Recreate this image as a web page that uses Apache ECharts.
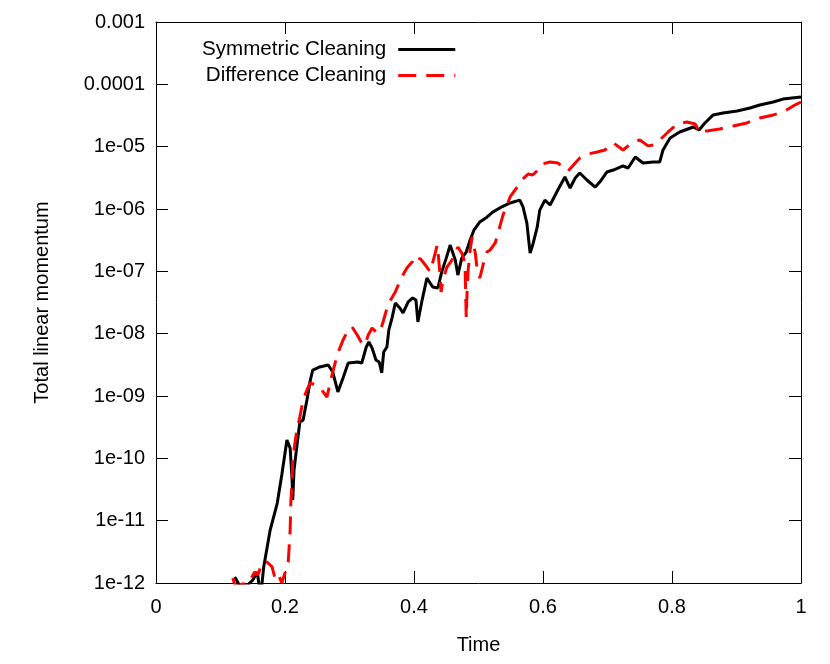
<!DOCTYPE html>
<html>
<head>
    <meta charset="utf-8" />
    <title>Total linear momentum</title>
    <script type="text/javascript" src="https://cdn.jsdelivr.net/npm/echarts@6/dist/echarts.min.js"></script>
    <style>html,body{margin:0;padding:0;background:#fff;}</style>
</head>
<body>
<div id="main" style="width:830px;height:664px;"></div>
<script type="text/javascript">
    // Symmetric Cleaning (solid black)
    var symTime = [0.122,0.130,0.141,0.150,0.157,0.160,0.164,0.167,0.177,0.188,
        0.195,0.203,0.208,0.211,0.212,0.214,0.219,0.223,0.228,0.234,
        0.239,0.243,0.254,0.267,0.274,0.282,0.290,0.298,0.313,0.319,
        0.326,0.330,0.335,0.341,0.346,0.350,0.353,0.358,0.361,0.366,
        0.371,0.378,0.383,0.391,0.398,0.403,0.406,0.412,0.420,0.429,
        0.437,0.443,0.450,0.456,0.464,0.468,0.474,0.481,0.487,0.493,
        0.502,0.513,0.522,0.533,0.549,0.564,0.569,0.575,0.580,0.584,
        0.591,0.595,0.603,0.611,0.623,0.634,0.642,0.650,0.657,0.668,
        0.681,0.688,0.699,0.709,0.724,0.732,0.743,0.755,0.771,0.781,
        0.786,0.797,0.812,0.833,0.842,0.851,0.864,0.879,0.901,0.921,
        0.936,0.957,0.972,1.000];
    var symMomentum = [1.25e-12,9e-13,9e-13,1.12e-12,1.5e-12,9e-13,9e-13,1.81e-12,7.08e-12,1.92e-11,
        5.4e-11,1.97e-10,1.46e-10,4.5e-11,2.15e-11,6.5e-11,1.76e-10,3.82e-10,4.1e-10,8.6e-10,
        1.74e-9,2.61e-9,2.92e-9,3.14e-9,2.43e-9,1.16e-9,1.94e-9,3.38e-9,3.51e-9,3.38e-9,
        6.11e-9,7.35e-9,5.89e-9,3.78e-9,3.51e-9,2.34e-9,5.08e-9,6.11e-9,1.15e-8,1.79e-8,
        3.1e-8,2.58e-8,2.15e-8,3.23e-8,3.74e-8,3.47e-8,1.54e-8,3.23e-8,7.8e-8,5.6e-8,
        5.4e-8,9.8e-8,1.63e-7,2.64e-7,1.52e-7,8.7e-8,1.63e-7,2.04e-7,3.18e-7,4.6e-7,
        6.2e-7,7.4e-7,8.9e-7,1.04e-6,1.25e-6,1.39e-6,1.08e-6,5.95e-7,1.97e-7,2.64e-7,
        5.1e-7,9.6e-7,1.39e-6,1.16e-6,2.02e-6,3.26e-6,2.17e-6,3.14e-6,3.78e-6,2.92e-6,
        2.25e-6,2.71e-6,3.92e-6,4.22e-6,4.9e-6,4.55e-6,6.83e-6,5.47e-6,5.68e-6,5.68e-6,
        8.84e-6,1.38e-5,1.72e-5,2.07e-5,1.85e-5,2.4e-5,3.23e-5,3.47e-5,3.74e-5,4.17e-5,
        4.67e-5,5.2e-5,5.8e-5,6.27e-5];

    // Difference Cleaning (dashed red)
    var diffTime = [0.119,0.122,0.126,0.133,0.143,0.153,0.158,0.164,0.172,0.180,
        0.184,0.189,0.195,0.200,0.205,0.208,0.209,0.211,0.212,0.216,
        0.219,0.223,0.228,0.234,0.239,0.247,0.257,0.265,0.270,0.274,
        0.282,0.290,0.298,0.304,0.312,0.319,0.324,0.329,0.335,0.343,
        0.347,0.352,0.360,0.371,0.381,0.389,0.397,0.405,0.409,0.414,
        0.420,0.425,0.433,0.436,0.437,0.440,0.442,0.445,0.451,0.459,
        0.464,0.468,0.474,0.479,0.481,0.482,0.484,0.487,0.490,0.495,
        0.498,0.502,0.507,0.513,0.518,0.526,0.538,0.549,0.560,0.567,
        0.577,0.584,0.592,0.598,0.611,0.623,0.634,0.639,0.650,0.657,
        0.670,0.684,0.696,0.709,0.724,0.740,0.750,0.763,0.771,0.781,
        0.794,0.808,0.823,0.836,0.843,0.854,0.874,0.895,0.916,0.936,
        0.957,0.972,0.988,1.000];
    var diffMomentum = [1.2e-12,9.5e-13,9e-13,9.6e-13,9.6e-13,1.5e-12,1.34e-12,2.09e-12,2.17e-12,1.81e-12,
        1.25e-12,1.45e-12,1.0e-12,1.45e-12,2.17e-12,7.08e-12,1.92e-11,4.5e-11,9.4e-11,1.97e-10,
        3.06e-10,4.6e-10,8.6e-10,1.25e-9,1.62e-9,1.5e-9,1.25e-9,9.6e-10,1.62e-9,2.43e-9,
        4.9e-9,7.91e-9,1.15e-8,1.28e-8,9.52e-9,7.08e-9,6.58e-9,9.52e-9,1.23e-8,1.03e-8,
        1.06e-8,1.54e-8,3.0e-8,4.67e-8,8.1e-8,1.13e-7,1.41e-7,1.26e-7,1.63e-7,1.41e-7,
        1.17e-7,9.8e-8,1.97e-7,2.64e-7,2.2e-7,9.8e-8,4.67e-8,7.3e-8,1.17e-7,1.52e-7,
        1.97e-7,2.45e-7,1.97e-7,1.36e-7,1.79e-8,3.88e-8,1.05e-7,2.2e-7,3.55e-7,1.97e-7,
        1.05e-7,7.8e-8,1.26e-7,2.04e-7,2.2e-7,2.85e-7,8.0e-7,1.56e-6,2.25e-6,2.92e-6,
        3.64e-6,3.51e-6,4.22e-6,5.27e-6,5.68e-6,5.47e-6,4.55e-6,4.07e-6,5.47e-6,6.58e-6,
        7.63e-6,8.21e-6,8.84e-6,1.15e-5,8.84e-6,1.19e-5,1.28e-5,1.03e-5,1.06e-5,1.28e-5,
        1.72e-5,2.31e-5,2.49e-5,2.31e-5,1.66e-5,1.79e-5,1.92e-5,2.15e-5,2.4e-5,2.89e-5,
        3.23e-5,3.6e-5,4.5e-5,5.2e-5];

    // tick labels of the log axis, from 1e-12 up to 1e-3
    var yTickLabels = ['1e-12','1e-11','1e-10','1e-09','1e-08','1e-07','1e-06','1e-05','0.0001','0.001'];
    var xTickLabels = ['0','0.2','0.4','0.6','0.8','1'];

    function pairs(xs, ys) {
        var out = [];
        for (var i = 0; i < xs.length; i++) out.push([xs[i], ys[i]]);
        return out;
    }

    var font = "'Liberation Sans', Arial, sans-serif";
    var myChart = echarts.init(document.getElementById('main'));

    // gnuplot style: ticks point into the plot on all four sides
    var tickStyle = { show: true, inside: true, length: 12, lineStyle: { color: '#000', width: 1 } };
    var lineAxis = { show: true, onZero: false, lineStyle: { color: '#000', width: 1 } };

    var option = {
        animation: false,
        backgroundColor: '#fff',
        textStyle: { fontFamily: font },
        grid: { left: 156, top: 22, right: 29, bottom: 81, containLabel: false },
        legend: {
            orient: 'vertical',
            align: 'right',
            left: 197,
            top: 34,
            itemWidth: 57,
            itemHeight: 14,
            itemGap: 5,
            itemStyle: { opacity: 0 },
            lineStyle: { width: 3 },
            textStyle: { fontFamily: font, fontSize: 20.6, color: '#000', padding: [0, 7, 0, 0] },
            data: ['Symmetric Cleaning', 'Difference Cleaning']
        },
        xAxis: [{
            type: 'value',
            min: 0, max: 1, interval: 0.2,
            name: 'Time',
            nameLocation: 'middle',
            nameGap: 52,
            nameTextStyle: { fontFamily: font, fontSize: 20, color: '#000' },
            axisLine: lineAxis,
            axisTick: tickStyle,
            splitLine: { show: false },
            axisLabel: {
                fontFamily: font, fontSize: 20, color: '#000', margin: 14,
                formatter: function (v) { return xTickLabels[Math.round(v / 0.2)]; }
            }
        }, {
            type: 'value',
            position: 'top',
            min: 0, max: 1, interval: 0.2,
            axisLine: lineAxis,
            axisTick: tickStyle,
            splitLine: { show: false },
            axisLabel: { show: false }
        }],
        yAxis: [{
            type: 'log',
            logBase: 10,
            min: 1e-12, max: 1e-3,
            splitNumber: 9,
            name: 'Total linear momentum',
            nameLocation: 'middle',
            nameGap: 104,
            nameTextStyle: { fontFamily: font, fontSize: 20, color: '#000' },
            axisLine: lineAxis,
            axisTick: tickStyle,
            minorTick: { show: false },
            splitLine: { show: false },
            axisLabel: {
                fontFamily: font, fontSize: 20, color: '#000', margin: 11,
                formatter: function (v) {
                    var e = Math.round(Math.log(v) / Math.LN10);
                    return yTickLabels[e + 12];
                }
            }
        }, {
            type: 'log',
            logBase: 10,
            position: 'right',
            min: 1e-12, max: 1e-3,
            splitNumber: 9,
            axisLine: lineAxis,
            axisTick: tickStyle,
            splitLine: { show: false },
            axisLabel: { show: false }
        }],
        series: [{
            name: 'Symmetric Cleaning',
            type: 'line',
            xAxisIndex: 0, yAxisIndex: 0,
            symbol: 'none',
            showSymbol: false,
            clip: true,
            lineStyle: { color: '#000', width: 3 },
            itemStyle: { color: '#000' },
            data: pairs(symTime, symMomentum)
        }, {
            name: 'Difference Cleaning',
            type: 'line',
            xAxisIndex: 0, yAxisIndex: 0,
            symbol: 'none',
            showSymbol: false,
            clip: true,
            lineStyle: { color: '#ff0000', width: 3, type: [18, 10] },
            itemStyle: { color: '#ff0000' },
            data: pairs(diffTime, diffMomentum)
        }]
    };

    myChart.setOption(option);
</script>
</body>
</html>
